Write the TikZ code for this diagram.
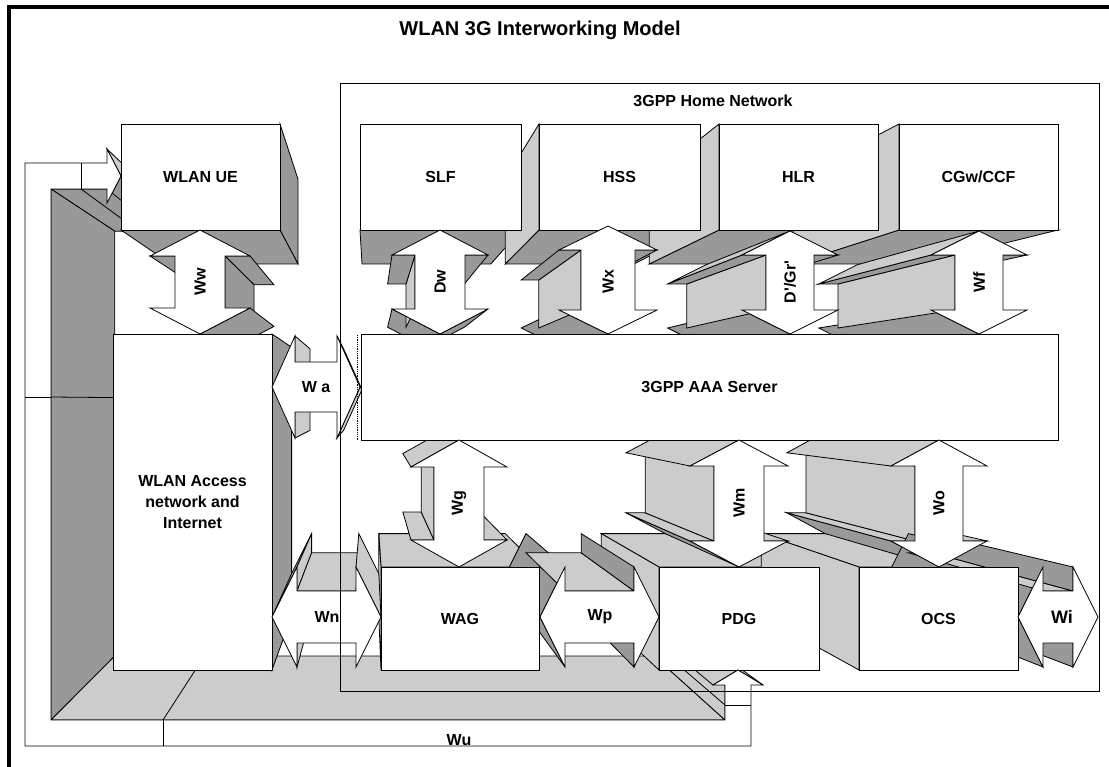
\documentclass[tikz,border=0pt]{standalone}
\usepackage{fontspec}
\setmainfont{Liberation Sans}
\definecolor{dk}{HTML}{999999}
\definecolor{lt}{HTML}{CCCCCC}
\tikzset{
  face/.style={draw=black, line width=0.8pt, line join=miter},
  front/.style={draw=black, fill=white, line width=0.8pt, line join=miter},
  box/.style={front, rectangle, inner sep=0pt, outer sep=0pt, font=\fontsize{16}{21}\selectfont\bfseries, align=center},
  lbl/.style={font=\fontsize{16}{18}\selectfont\bfseries, inner sep=0pt},
}
\newcommand\VX{370}
\newcommand\VY{400}
\newcommand\KK{0.2}
\newif\ifextr
% extrusion faces of a clockwise polygon toward the vanishing point
\newcommand\faceedges[4]{%
  \foreach \x/\y [remember=\x as \px (initially #2), remember=\y as \py (initially #3)] in {#4}{%
    \pgfmathsetmacro\dd{((\y-\py)/100)*((\VX-\px)/100)-((\x-\px)/100)*((\VY-\py)/100)}%
    \ifdim\dd pt>0.00001pt\relax
      \pgfmathsetmacro\isdark{ifthenelse(#1==1,or(\x-\px < -0.01,and(abs(\x-\px)<0.01,\y-\py>0)),\y-\py < -0.01)}%
      \ifdim\isdark pt>0.5pt\def\fc{dk}\else\def\fc{lt}\fi
      \pgfmathsetmacro\ax{\px+\KK*(\VX-\px)}%
      \pgfmathsetmacro\ay{\py+\KK*(\VY-\py)}%
      \pgfmathsetmacro\bx{\x+\KK*(\VX-\x)}%
      \pgfmathsetmacro\by{\y+\KK*(\VY-\y)}%
      \filldraw[face,fill=\fc] (\px,\py) -- (\x,\y) -- (\bx,\by) -- (\ax,\ay) -- cycle;
    \fi
  }%
}
\newcommand\boxshape[4]{%
  \ifextr\faceedges{1}{#1}{#2}{#3/#2,#3/#4,#1/#4,#1/#2}\fi}
% vertical double arrow: cx, y1, y2, H, s, h
\newcommand\varrow[6]{%
  \pgfmathsetmacro\xa{#1+#4}\pgfmathsetmacro\xb{#1+#5}%
  \pgfmathsetmacro\xc{#1-#5}\pgfmathsetmacro\xd{#1-#4}%
  \pgfmathsetmacro\ya{#2+#6}\pgfmathsetmacro\yb{#3-#6}%
  \ifextr
    \edef\tmp{\noexpand\faceedges{1}{#1}{#2}{\xa/\ya,\xb/\ya,\xb/\yb,\xa/\yb,#1/#3,\xd/\yb,\xc/\yb,\xc/\ya,\xd/\ya,#1/#2}}\tmp
  \else
    \filldraw[front] (#1,#2) -- (\xa,\ya) -- (\xb,\ya) -- (\xb,\yb) -- (\xa,\yb) -- (#1,#3)
      -- (\xd,\yb) -- (\xc,\yb) -- (\xc,\ya) -- (\xd,\ya) -- cycle;
  \fi}
% horizontal double arrow: cy, x1, x2, H, s, h
\newcommand\harrow[6]{%
  \pgfmathsetmacro\xa{#2+#6}\pgfmathsetmacro\xb{#3-#6}%
  \pgfmathsetmacro\ya{#1-#4}\pgfmathsetmacro\yb{#1-#5}%
  \pgfmathsetmacro\yc{#1+#5}\pgfmathsetmacro\yd{#1+#4}%
  \ifextr
    \edef\tmp{\noexpand\faceedges{0}{#2}{#1}{\xa/\ya,\xa/\yb,\xb/\yb,\xb/\ya,#3/#1,\xb/\yd,\xb/\yc,\xa/\yc,\xa/\yd,#2/#1}}\tmp
  \else
    \filldraw[front] (#2,#1) -- (\xa,\ya) -- (\xa,\yb) -- (\xb,\yb) -- (\xb,\ya) -- (#3,#1)
      -- (\xb,\yd) -- (\xb,\yc) -- (\xa,\yc) -- (\xa,\yd) -- cycle;
  \fi}
\newcommand\wushape{%
  \ifextr
    \faceedges{1}{25}{163}{107/163,107/149,121/176,107/203,107/189,51/189,51/720,725/720,725/685,713/685,738/670,763/685,751/685,751/746,25/746,25/163}
    \draw[face] (81,189) -- (138.8,231.2);
    \draw[face] (51,397) -- (114.8,397.6);
    \draw[face] (163,720) -- (204.4,656);
    \draw[face] (725,705) -- (654,644);
  \else
    \filldraw[front] (25,163) -- (107,163) -- (107,149) -- (121,176) -- (107,203) -- (107,189)
      -- (51,189) -- (51,720) -- (725,720) -- (725,685) -- (713,685) -- (738,670) -- (763,685)
      -- (751,685) -- (751,746) -- (25,746) -- cycle;
    \draw[face] (81,163) -- (81,189);
    \draw[face] (25,397) -- (51,397);
    \draw[face] (163,720) -- (163,746);
    \draw[face] (725,705) -- (751,705);
  \fi}
\newcommand\allshapes{%
  \wushape
  \boxshape{121}{124}{280}{230}
  \boxshape{360}{124}{521}{230}
  \boxshape{539}{124}{700}{230}
  \boxshape{719}{124}{878}{230}
  \boxshape{899}{124}{1058}{230}
  \boxshape{361}{334}{1058}{440}
  \boxshape{113}{334}{272}{670}
  \boxshape{381}{567}{539}{670}
  \boxshape{659}{567}{819}{670}
  \boxshape{859}{567}{1018}{670}
  \varrow{200}{230}{334}{50}{25}{26}
  \varrow{440}{230}{334}{48}{25}{25}
  \varrow{608}{226}{334}{49}{27}{24}
  \varrow{790}{231}{334}{48}{24}{24}
  \varrow{979}{231}{334}{48}{24}{24}
  \varrow{459}{440}{567}{48}{25}{27}
  \varrow{739}{440}{567}{49}{25}{26}
  \varrow{939}{440}{567}{48}{24}{26}
  \harrow{387}{272}{360}{51}{25}{23}
  \harrow{617}{272}{381}{50}{26}{25}
  \harrow{617}{540}{659}{50}{26}{25}
  \harrow{617}{1018}{1098}{50}{26}{25}
}
\begin{document}
\begin{tikzpicture}[x=1pt,y=-1pt]
\useasboundingbox (0,0) rectangle (1109,767);
\fill[white] (0,0) rectangle (1109,767);
% extrusions
\extrtrue
\allshapes
% front faces: boxes
\node[box, minimum width=159pt, minimum height=106pt] (ue)   at (200.5,177) {WLAN UE};
\node[box, minimum width=161pt, minimum height=106pt] (slf)  at (440.5,177) {SLF};
\node[box, minimum width=161pt, minimum height=106pt] (hss)  at (619.5,177) {HSS};
\node[box, minimum width=159pt, minimum height=106pt] (hlr)  at (798.5,177) {HLR};
\node[box, minimum width=159pt, minimum height=106pt] (cgw)  at (978.5,177) {CGw/CCF};
\node[box, minimum width=697pt, minimum height=106pt] (aaa)  at (709.5,387) {3GPP AAA Server};
\node[box, minimum width=159pt, minimum height=336pt] (wlan) at (192.5,502) {WLAN Access\\network and\\Internet};
\node[box, minimum width=158pt, minimum height=103pt] (wag)  at (460,618.5) {WAG};
\node[box, minimum width=160pt, minimum height=103pt] (pdg)  at (739,618.5) {PDG};
\node[box, minimum width=159pt, minimum height=103pt] (ocs)  at (938.5,618.5) {OCS};
% front faces: connectors
\extrfalse
\allshapes
\draw[densely dotted, line width=0.8pt] (357,335) -- (357,440);
% connector labels
\node[lbl, rotate=90] (lww) at (200,282) {Ww};
\node[lbl, rotate=90] (ldw) at (440,282) {Dw};
\node[lbl, rotate=90] (lwx) at (608,282) {Wx};
\node[lbl, rotate=90] (ldg) at (790,282) {D\textquotesingle/Gr\textquotesingle};
\node[lbl, rotate=90] (lwf) at (979,282) {Wf};
\node[lbl, rotate=90] (lwg) at (459,503) {Wg};
\node[lbl, rotate=90] (lwm) at (739,503) {Wm};
\node[lbl, rotate=90] (lwo) at (939,503) {Wo};
\node[lbl] (lwa) at (316,387) {W a};
\node[lbl] (lwn) at (327,617) {Wn};
\node[lbl] (lwp) at (600,617) {Wp};
\node[lbl, font=\fontsize{18}{20}\selectfont\bfseries] (lwi) at (1062,617) {Wi};
\node[lbl] (lwu) at (459,740) {Wu};
% home network
\draw[line width=0.8pt] (340,83) rectangle (1099,691);
\node[lbl] (home) at (713,101) {3GPP Home Network};
% title and frame
\node[lbl, font=\fontsize{20}{23}\selectfont\bfseries] (title) at (540,30) {WLAN 3G Interworking Model};
\draw[line width=3.5pt] (9,780) -- (9,7) -- (1120,7);
\end{tikzpicture}
\end{document}
